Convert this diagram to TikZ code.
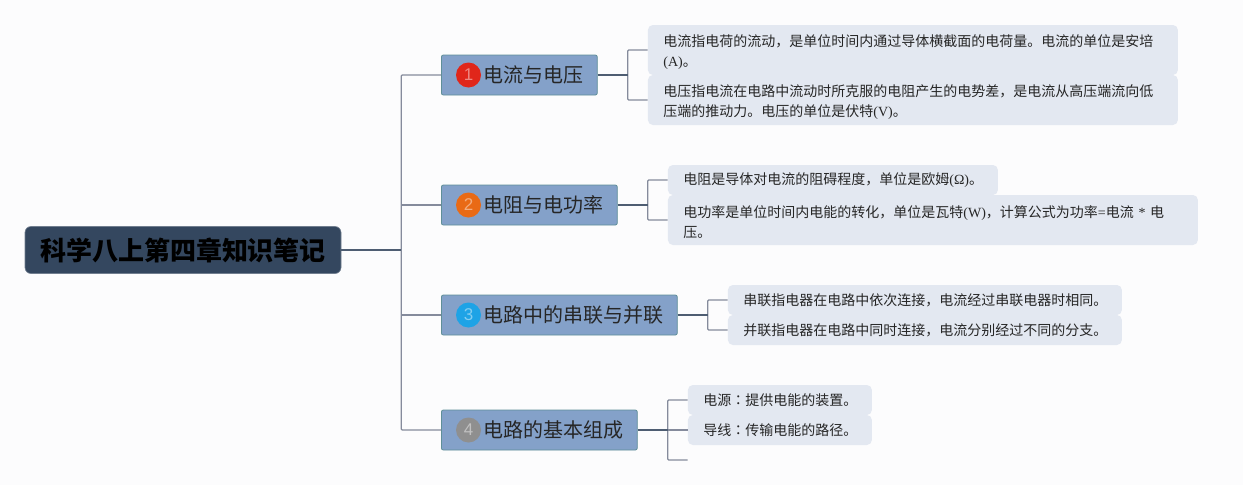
\documentclass[tikz,border=0pt]{standalone}
\usepackage{fontspec}
\usepackage{xcolor}
\setmainfont{Liberation Serif}
\setsansfont{Liberation Sans}
\newfontfamily\cjk{Noto Sans CJK SC}
\newfontfamily\cjkcolon{Noto Sans CJK TC}
\usetikzlibrary{positioning,calc}

\definecolor{pagebg}{HTML}{FCFCFD}
\definecolor{rootfill}{HTML}{34475F}
\definecolor{topicfill}{HTML}{84A1C9}
\definecolor{topicedge}{HTML}{5F8F98}
\definecolor{leaffill}{HTML}{E3E8F1}
\definecolor{stemline}{HTML}{4E5D72}
\definecolor{forkline}{HTML}{858B9C}
\definecolor{badgered}{HTML}{E0261A}
\definecolor{badgeorange}{HTML}{E96A15}
\definecolor{badgeblue}{HTML}{1EA3E6}
\definecolor{badgegray}{HTML}{8F8F8F}

\begin{document}
\begin{tikzpicture}[
    x=1pt, y=-1pt,
    node distance=50pt,
    root/.style={rectangle, fill=rootfill, draw=rootfill!70!white, line width=0.6pt, rounded corners=6pt, minimum width=316pt, minimum height=47pt, inner sep=0pt, font=\cjk\bfseries\fontsize{26}{30}\selectfont, text=black},
    topic/.style={rectangle, fill=topicfill, draw=topicedge, line width=0.8pt, rounded corners=2pt, minimum height=40pt, inner xsep=13.7pt, inner ysep=0pt, font=\cjk\fontsize{20}{24}\selectfont, text=black!85, execute at begin node=\hspace{28.5pt}},
    badge/.style={circle, fill=#1, text=#1!55!white, minimum size=25pt, inner sep=0pt, font=\sffamily\fontsize{17}{20}\selectfont},
    leaf/.style={rectangle, fill=leaffill, rounded corners=5pt, align=left, text width=#1, inner xsep=15.5pt, inner ysep=0pt, font=\cjk\fontsize{14}{20}\selectfont, text=black!85},
    twoline/.style={minimum height=50pt, execute at begin node=\rule{0pt}{16pt}},
    oneline/.style={minimum height=30pt},
    stem/.style={draw=stemline, line width=1.3pt},
    fork/.style={draw=forkline, line width=1.2pt, rounded corners=1pt}
]
    \fill [pagebg] (0,0) rectangle (1243,485);
    \useasboundingbox (0,0) rectangle (1243,485);

    \node [root] (notes) at (183,250) {科学八上第四章知识笔记};
    \coordinate [right=60pt of notes] (hub);

    \node [topic, anchor=west] (voltage) at (441,75) {电流与电压};
    \node [topic, anchor=west] (resist) at (441,205) {电阻与电功率};
    \node [topic, anchor=west] (series) at (441,315) {电路中的串联与并联};
    \node [topic, anchor=west] (basics) at (441,430) {电路的基本组成};

    \node [badge=badgered] (badgeA) at ($(voltage.west)+(27.5,0)$) {1};
    \node [badge=badgeorange] (badgeB) at ($(resist.west)+(27.5,0)$) {2};
    \node [badge=badgeblue] (badgeC) at ($(series.west)+(27.5,0)$) {3};
    \node [badge=badgegray] (badgeD) at ($(basics.west)+(27.5,0)$) {4};

    \node [leaf=499pt, twoline, right=of voltage, yshift=25pt] (current) {电流指电荷的流动，是单位时间内通过导体横截面的电荷量。电流的单位是安培\\{\rmfamily (A)}。};
    \node [leaf=499pt, twoline, right=of voltage, yshift=-25pt] (potential) {电压指电流在电路中流动时所克服的电阻产生的电势差，是电流从高压端流向低\\压端的推动力。电压的单位是伏特{\rmfamily (V)}。};
    \node [leaf=299pt, oneline, right=of resist, yshift=25pt] (ohm) {电阻是导体对电流的阻碍程度，单位是欧姆{\rmfamily (Ω)}。};
    \node [leaf=499pt, twoline, right=of resist, yshift=-15pt] (power) {电功率是单位时间内电能的转化，单位是瓦特{\rmfamily (W)}，计算公式为功率{\rmfamily =}电流{\rmfamily\ *\ }电\\压。};
    \node [leaf=363pt, oneline, right=of series, yshift=15pt] (chain) {串联指电器在电路中依次连接，电流经过串联电器时相同。};
    \node [leaf=363pt, oneline, right=of series, yshift=-15pt] (branch) {并联指电器在电路中同时连接，电流分别经过不同的分支。};
    \node [leaf=153pt, oneline, right=of basics, yshift=30pt] (source) {电源{\cjkcolon ：}提供电能的装置。};
    \node [leaf=153pt, oneline, right=of basics] (wire) {导线{\cjkcolon ：}传输电能的路径。};
    \coordinate [right=of basics, yshift=-30pt] (blank);

    % trunk from the title to the four topics
    \draw [fork] (voltage.west) -| (hub) |- (basics.west);
    \draw [fork] (resist.west) -- (resist.west -| hub);
    \draw [fork] (series.west) -- (series.west -| hub);
    \draw [stem] (notes.east) -- (hub);

    % forks from the topics to their notes
    \coordinate [right=30pt of voltage] (splitA);
    \coordinate [right=30pt of resist] (splitB);
    \coordinate [right=30pt of series] (splitC);
    \coordinate [right=30pt of basics] (splitD);
    \draw [fork] (current.west) -| (splitA) |- (potential.west);
    \draw [stem] (voltage.east) -- (splitA);
    \draw [fork] (ohm.west) -| (splitB) |- (power.west);
    \draw [stem] (resist.east) -- (splitB);
    \draw [fork] (chain.west) -| (splitC) |- (branch.west);
    \draw [stem] (series.east) -- (splitC);
    \draw [fork] (source.west) -| (splitD) |- (blank);
    \draw [fork] (splitD) -- (wire.west);
    \draw [stem] (basics.east) -- (splitD);
\end{tikzpicture}
\end{document}
